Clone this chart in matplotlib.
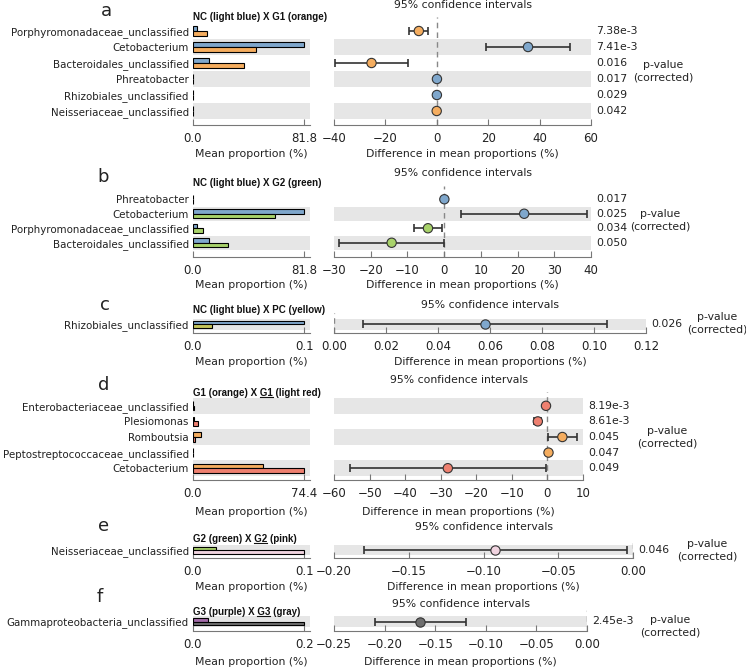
import matplotlib
matplotlib.use('Agg')
import matplotlib.pyplot as plt
from matplotlib.lines import Line2D
import numpy as np

W, H = 746, 667

blue = '#7fa7cc'
orange = '#f5ad5f'
green = '#a8d26a'
yellow = '#c4c55c'
lightred = '#ee8070'
pink = '#f0d3df'
purple = '#a26aa8'
gray = '#6f6f6f'
band = '#e6e6e6'

# a: NC vs G1
a_feat = ['Porphyromonadaceae_unclassified', 'Cetobacterium', 'Bacteroidales_unclassified',
          'Phreatobacter', 'Rhizobiales_unclassified', 'Neisseriaceae_unclassified']
a_nc = [3.0, 81.8, 11.8, 0.06, 0.03, 0.0]
a_g1 = [10.0, 46.4, 37.3, 0.0, 0.0, 0.04]
a_diff = [-7.0, 35.5, -25.4, 0.06, 0.03, -0.04]
a_lo = [-10.8, 19.1, -39.6, 0.0, 0.01, -0.07]
a_hi = [-3.4, 51.8, -11.3, 0.11, 0.05, -0.01]
a_p = ['7.38e-3', '7.41e-3', '0.016', '0.017', '0.029', '0.042']

# b: NC vs G2
b_feat = ['Phreatobacter', 'Cetobacterium', 'Porphyromonadaceae_unclassified', 'Bacteroidales_unclassified']
b_nc = [0.06, 81.8, 3.0, 11.8]
b_g2 = [0.0, 60.4, 7.1, 26.0]
b_diff = [0.06, 21.8, -4.4, -14.3]
b_lo = [0.0, 4.5, -8.2, -28.6]
b_hi = [0.11, 38.8, -0.5, -0.1]
b_p = ['0.017', '0.025', '0.034', '0.050']

# c: NC vs PC
c_feat = ['Rhizobiales_unclassified']
c_nc = [0.07]
c_pc = [0.012]
c_diff = [0.058]
c_lo = [0.0113]
c_hi = [0.1049]
c_p = ['0.026']

# d: G1 vs G1 (light red)
d_feat = ['Enterobacteriaceae_unclassified', 'Plesiomonas', 'Romboutsia',
          'Peptostreptococcaceae_unclassified', 'Cetobacterium']
d_g1 = [0.0, 0.6, 5.4, 0.3, 46.7]
d_g1r = [0.4, 3.3, 1.2, 0.0, 74.4]
d_diff = [-0.4, -2.7, 4.2, 0.3, -28.0]
d_lo = [-0.6, -3.7, 0.2, 0.1, -55.6]
d_hi = [-0.2, -1.7, 8.3, 0.5, -0.4]
d_p = ['8.19e-3', '8.61e-3', '0.045', '0.047', '0.049']

# e: G2 vs G2 (pink)
e_feat = ['Neisseriaceae_unclassified']
e_g2 = [0.024]
e_g2p = [0.116]
e_diff = [-0.092]
e_lo = [-0.180]
e_hi = [-0.004]
e_p = ['0.046']

# f: G3 vs G3 (gray)
f_feat = ['Gammaproteobacteria_unclassified']
f_g3 = [0.026]
f_g3g = [0.191]
f_diff = [-0.165]
f_lo = [-0.209]
f_hi = [-0.120]
f_p = ['2.45e-3']

fig = plt.figure(figsize=(W / 100, H / 100), dpi=100)
underlines = []
title_props = dict(fontsize=7, fontweight='bold', family='Liberation Sans')


def box(x0, x1, top, bottom):
    return [x0 / W, 1 - bottom / H, (x1 - x0) / W, (bottom - top) / H]


def draw_panel(feat, v1, v2, col1, col2, diff, lo, hi, pvals, top, bottom, row,
               ci_right, xlim, xticks, letter, letter_xy, title, title_y, ci_y,
               xlab_y, plab_xy, bar_h=0.3):
    n = len(feat)
    y = np.arange(n)[::-1]
    ylo = (n - 0.5) - (bottom - top) / row
    yhi = n - 0.5 + 6.0 / row
    ax1 = fig.add_axes(box(193, 310, top - 6, bottom))
    ax2 = fig.add_axes(box(334, ci_right, top - 6, bottom))
    for ax in (ax1, ax2):
        for i in range(0, n, 2):
            ax.axhspan(i - 0.5, i + 0.5, color=band, lw=0, zorder=0)
        ax.set_ylim(ylo, yhi)
        for s in ['top', 'right', 'left']:
            ax.spines[s].set_visible(False)
        ax.spines['bottom'].set_color('#777')
        ax.tick_params(axis='x', direction='in', length=4, color='#777',
                       labelsize=8.5, pad=5, labelcolor='#222')
        ax.tick_params(axis='y', length=0)
        ax.set_facecolor('none')

    mx = max(max(v1), max(v2))
    ax1.barh(y + bar_h / 2, v1, height=bar_h, color=col1, edgecolor='black', lw=0.8, zorder=2)
    ax1.barh(y - bar_h / 2, v2, height=bar_h, color=col2, edgecolor='black', lw=0.8, zorder=2)
    ax1.set_xlim(0, mx * 1.05)
    ax1.set_xticks([0, mx])
    ax1.set_xticklabels(['0.0', '%.1f' % mx])
    ax1.set_yticks(y)
    ax1.set_yticklabels(feat, fontsize=7.4, color='#222')
    ax1.tick_params(axis='y', pad=3)

    diff = np.array(diff)
    ax2.axvline(0, color='#888', ls='--', lw=1, zorder=1, dashes=(4, 3))
    ax2.errorbar(diff, y, xerr=[diff - np.array(lo), np.array(hi) - diff], fmt='none',
                 ecolor='#333', elinewidth=1.2, capsize=3, capthick=1.2, zorder=2)
    cols = [col1 if d > 0 else col2 for d in diff]
    ax2.scatter(diff, y, s=45, c=cols, edgecolors='#333', linewidths=0.8, zorder=3)
    ax2.set_xlim(xlim)
    ax2.set_xticks(xticks)
    ax2.set_yticks([])
    for yi, p in zip(y, pvals):
        ax2.annotate(p, xy=(1, yi), xycoords=('axes fraction', 'data'), xytext=(4, 0),
                     textcoords='offset points', va='center', ha='left',
                     fontsize=7.8, color='#222', annotation_clip=False)

    fig.text(letter_xy[0] / W, 1 - letter_xy[1] / H, letter, fontsize=13,
             ha='center', va='center', color='#222')
    full = ''.join(title)
    tt = fig.text(193 / W, 1 - title_y / H, full, va='center', ha='left',
                  color='#111', **title_props)
    if len(title) > 1:
        underlines.append((tt, title))
    fig.text((334 + ci_right) / 2 / W, 1 - ci_y / H, '95% confidence intervals',
             fontsize=7.8, ha='center', va='center', color='#222')
    fig.text((193 + 310) / 2 / W, 1 - xlab_y / H, 'Mean proportion (%)',
             fontsize=7.8, ha='center', va='center', color='#222')
    fig.text((334 + ci_right) / 2 / W, 1 - xlab_y / H, 'Difference in mean proportions (%)',
             fontsize=7.8, ha='center', va='center', color='#222')
    fig.text(plab_xy[0] / W, 1 - plab_xy[1] / H, 'p-value\n(corrected)',
             fontsize=7.8, ha='center', va='center', color='#222', linespacing=1.3)


draw_panel(a_feat, a_nc, a_g1, blue, orange, a_diff, a_lo, a_hi, a_p,
           23, 125, 16, 591, (-40, 60), [-40, -20, 0, 20, 40, 60],
           'a', (106, 11), ['NC (light blue) X G1 (orange)'], 17, 5, 154, (663, 71))
draw_panel(b_feat, b_nc, b_g2, blue, green, b_diff, b_lo, b_hi, b_p,
           192, 257, 14.5, 591, (-30, 40), [-30, -20, -10, 0, 10, 20, 30, 40],
           'b', (103, 177), ['NC (light blue) X G2 (green)'], 183, 173, 285, (660, 220))
draw_panel(c_feat, c_nc, c_pc, blue, yellow, c_diff, c_lo, c_hi, c_p,
           319, 333, 10.5, 646, (0, 0.12), [0, 0.02, 0.04, 0.06, 0.08, 0.10, 0.12],
           'c', (105, 305), ['NC (light blue) X PC (yellow)'], 310, 305, 362, (717, 323),
           bar_h=0.35)
draw_panel(d_feat, d_g1, d_g1r, orange, lightred, d_diff, d_lo, d_hi, d_p,
           398, 480, 15.6, 583, (-60, 10), [-60, -50, -40, -30, -20, -10, 0, 10],
           'd', (104, 385), ['G1 (orange) X ', 'G1', ' (light red)'], 393, 380, 512, (667, 437))
draw_panel(e_feat, e_g2, e_g2p, green, pink, e_diff, e_lo, e_hi, e_p,
           545, 558, 10, 633, (-0.2, 0), [-0.20, -0.15, -0.10, -0.05, 0.00],
           'e', (104, 526), ['G2 (green) X ', 'G2', ' (pink)'], 539, 527, 587, (707, 550),
           bar_h=0.35)
draw_panel(f_feat, f_g3, f_g3g, purple, gray, f_diff, f_lo, f_hi, f_p,
           616, 631, 11, 587, (-0.25, 0), [-0.25, -0.20, -0.15, -0.10, -0.05, 0.00],
           'f', (100, 597), ['G3 (purple) X ', 'G3', ' (gray)'], 612, 604, 662, (670, 626),
           bar_h=0.35)

# underline the second group name in d, e, f titles
fig.canvas.draw()
r = fig.canvas.get_renderer()
for tt, parts in underlines:
    t_end = fig.text(0, 0, parts[0] + parts[1], **title_props)
    t_mid = fig.text(0, 0, parts[1], **title_props)
    w_end = t_end.get_window_extent(r).width
    w_mid = t_mid.get_window_extent(r).width
    t_end.remove()
    t_mid.remove()
    bb = tt.get_window_extent(r)
    x0 = bb.x0 + w_end - w_mid
    x1 = bb.x0 + w_end
    yl = bb.y0 + 1.5
    fig.add_artist(Line2D([x0 / W, x1 / W], [yl / H, yl / H], color='#111', lw=0.8,
                          transform=fig.transFigure))

fig.savefig('out.png', dpi=100)
